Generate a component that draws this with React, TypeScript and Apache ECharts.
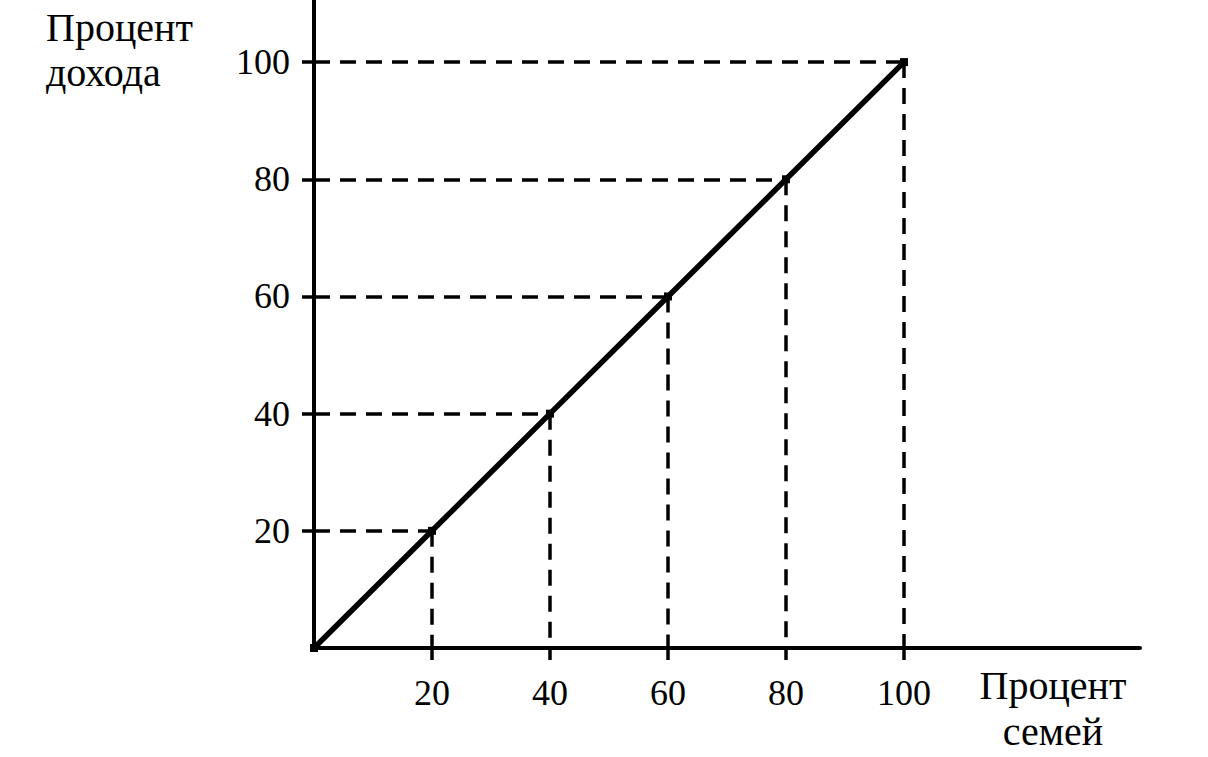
import React, { useEffect, useRef } from "react";
import * as echarts from "echarts";

const families: number[] = [0, 20, 40, 60, 80, 100];
const income: number[] = [0, 20, 40, 60, 80, 100];
const tickValues: number[] = [20, 40, 60, 80, 100];
const yAxisTitle = "Процент\nдохода";
const xAxisTitle = "Процент\nсемей";

const FONT = "'Liberation Serif', 'Times New Roman', serif";

export default function App() {
  const ref = useRef<HTMLDivElement>(null);
  useEffect(() => {
    if (!ref.current) return;
    const chart = echarts.init(ref.current, null, { renderer: "svg" });
    const points = families.map((f, i) => [f, income[i]]);
    const dashStyle = { color: "#000", width: 3.5, type: [16, 10] as any };
    const mlData: any[] = [];
    points.slice(1).forEach(([x, y]) => {
      mlData.push([{ coord: [0, y] }, { coord: [x, y] }]);
      mlData.push([{ coord: [x, y] }, { coord: [x, 0] }]);
    });
    const axisCommon = {
      type: "value",
      min: 0,
      interval: 20,
      axisLine: { show: true, lineStyle: { color: "#000", width: 4 } },
      axisTick: {
        show: true,
        length: 12,
        customValues: tickValues,
        lineStyle: { color: "#000", width: 3.5 },
      },
      splitLine: { show: false },
    };
    chart.setOption({
      animation: false,
      backgroundColor: "#fff",
      grid: { left: 314, right: 68, top: 0, bottom: 109 },
      xAxis: {
        ...axisCommon,
        max: 140,
        axisLabel: {
          color: "#000",
          fontFamily: FONT,
          fontSize: 36,
          margin: 27,
          customValues: tickValues,
        },
      },
      yAxis: {
        ...axisCommon,
        max: 110.6,
        axisLabel: {
          color: "#000",
          fontFamily: FONT,
          fontSize: 36,
          margin: 24,
          customValues: tickValues,
        },
      },
      graphic: [
        {
          type: "text",
          left: 46,
          top: 5,
          style: {
            text: yAxisTitle,
            font: `40px ${FONT}`,
            fill: "#000",
            lineHeight: 45,
          },
        },
        {
          type: "text",
          x: 1053,
          y: 662,
          style: {
            text: xAxisTitle,
            font: `40px ${FONT}`,
            fill: "#000",
            lineHeight: 46,
            textAlign: "center",
          },
        },
      ],
      series: [
        {
          type: "line",
          data: points,
          symbol: "rect",
          symbolSize: 8,
          itemStyle: { color: "#000" },
          lineStyle: { color: "#000", width: 5.5 },
          z: 5,
          markLine: {
            silent: true,
            symbol: ["none", "none"],
            label: { show: false },
            lineStyle: dashStyle,
            data: mlData,
          },
        },
      ],
    });
    return () => chart.dispose();
  }, []);
  return (
    <div
      ref={ref}
      style={{ position: "fixed", left: 0, top: 0, width: 1208, height: 757, background: "#fff" }}
    />
  );
}
